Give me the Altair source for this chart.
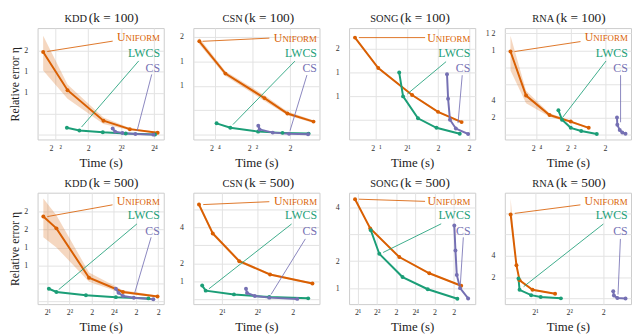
import json
import altair as alt
import pandas as pd

FONT = "Liberation Serif"
METHODS = ["Uniform", "LWCS", "CS"]
COLORS = ["#d95f02", "#1b9e77", "#7570b3"]
LABELS = ["NIFORM", "LWCS", "CS"]          # "Uniform" in small caps = "U" + "NIFORM"
LABEL_SIZES = [9, 12, 12]

# x = log2(time in s), y = relative error (axis units of the reference)
# ---------------- KDD, k = 100 ----------------
kdd100_unif_t = [-2.73, -1.25, 0.93, 2.53, 4.22]
kdd100_unif_err = [3.93, 2.12, 0.67, 0.27, 0.10]
kdd100_unif_lo = [3.06, 1.72, 0.52, 0.22, 0.07]
kdd100_unif_hi = [4.70, 2.39, 0.82, 0.33, 0.13]
kdd100_lwcs_t = [-1.29, -0.53, 0.89, 2.28, 4.06]
kdd100_lwcs_err = [0.34, 0.21, 0.12, 0.06, 0.02]
kdd100_cs_t = [1.49, 1.64, 2.08, 2.87, 3.96]
kdd100_cs_err = [0.30, 0.15, 0.09, 0.04, 0.01]
kdd100_xdom = [-3.07, 4.59]
kdd100_ydom = [-0.22, 5.07]
kdd100_xticks = [-2, 0, 2, 4]
kdd100_xlabels = ["2\u00a0\u00a0\u00a0²", "2", "2²", "2⁴"]
kdd100_yticks = [0, 1, 2, 3, 4]
kdd100_ylabels = ["", "", "1", "1", "2"]
kdd100_label_x = [4.36, 4.36, 4.36]
kdd100_label_y = [4.63, 3.88, 3.18]
kdd100_from_x = [1.49, 3.07, 3.86]
kdd100_from_y = [4.45, 3.51, 2.87]
kdd100_to_x = [-2.48, -0.40, 2.97]
kdd100_to_y = [3.96, 0.37, 0.19]

# ---------------- CSN, k = 100 ----------------
csn100_unif_t = [-4.83, -3.44, -1.36, -0.14, 1.25]
csn100_unif_err = [3.82, 2.50, 1.50, 0.87, 0.54]
csn100_unif_lo = [3.70, 2.40, 1.38, 0.80, 0.48]
csn100_unif_hi = [3.95, 2.60, 1.62, 0.95, 0.60]
csn100_lwcs_t = [-3.91, -3.18, -1.70, -0.40, 0.99]
csn100_lwcs_err = [0.47, 0.29, 0.13, 0.08, 0.05]
csn100_cs_t = [-1.69, -1.62, -0.92, -0.05, 0.96]
csn100_cs_err = [0.37, 0.22, 0.09, 0.04, 0.02]
csn100_xdom = [-5.15, 1.57]
csn100_ydom = [-0.19, 4.36]
csn100_xticks = [-4, -2, 0]
csn100_xlabels = ["2\u00a0\u00a0⁴", "2\u00a0\u00a0²", "2"]
csn100_yticks = [0, 1, 2, 3, 4]
csn100_ylabels = ["", "", "1", "1", "2"]
csn100_label_x = [1.43, 1.43, 1.43]
csn100_label_y = [3.97, 3.33, 2.73]
csn100_from_x = [-1.10, 0.26, 0.90]
csn100_from_y = [3.95, 3.01, 2.44]
csn100_to_x = [-4.66, -3.04, 0.00]
csn100_to_y = [3.82, 0.42, 0.17]

# ---------------- SONG, k = 100 ----------------
song100_unif_t = [-2.35, -0.85, 1.33, 3.00, 4.52]
song100_unif_err = [3.46, 2.18, 1.05, 0.34, -0.09]
song100_unif_lo = [3.42, 2.14, 1.01, 0.30, -0.13]
song100_unif_hi = [3.50, 2.22, 1.09, 0.38, -0.05]
song100_lwcs_t = [0.50, 0.75, 1.71, 2.90, 4.40]
song100_lwcs_err = [1.99, 0.99, 0.07, -0.33, -0.58]
song100_cs_t = [3.58, 3.65, 3.77, 4.15, 4.94]
song100_cs_err = [1.92, 0.89, 0.01, -0.36, -0.59]
song100_xdom = [-2.73, 5.40]
song100_ydom = [-0.82, 3.86]
song100_xticks = [-1, 1, 3, 5]
song100_xlabels = ["2\u00a0\u00a0¹", "2¹", "2", "2"]
song100_yticks = [0, 1, 2, 3]
song100_ylabels = ["", "1", "1", "2"]
song100_label_x = [5.08, 5.08, 5.08]
song100_label_y = [3.46, 2.80, 2.18]
song100_from_x = [2.17, 3.52, 4.56]
song100_from_y = [3.46, 2.45, 1.88]
song100_to_x = [-2.10, 1.02, 4.29]
song100_to_y = [3.46, 1.09, -0.13]

# ---------------- RNA, k = 100 ----------------
rna100_unif_t = [-5.52, -4.61, -3.24, -2.00, -0.95]
rna100_unif_err = [4.93, 2.32, 1.17, 0.78, 0.41]
rna100_unif_lo = [3.81, 1.86, 1.07, 0.70, 0.37]
rna100_unif_hi = [5.86, 2.60, 1.27, 0.85, 0.45]
rna100_lwcs_t = [-2.72, -2.51, -2.00, -1.39, -0.48]
rna100_lwcs_err = [1.45, 0.89, 0.41, 0.22, 0.04]
rna100_cs_t = [0.70, 0.72, 0.86, 1.01, 1.20]
rna100_cs_err = [1.02, 0.59, 0.28, 0.13, 0.06]
rna100_xdom = [-5.85, 1.52]
rna100_ydom = [-0.28, 6.32]
rna100_xticks = [-4, -2, 0]
rna100_xlabels = ["2\u00a0\u00a0⁴", "2\u00a0\u00a0²", "2"]
rna100_yticks = [0, 1, 2, 3, 4, 5, 6]
rna100_ylabels = ["", "2", "4", "", "", "1", "1\u00a02"]
rna100_label_x = [1.33, 1.33, 1.33]
rna100_label_y = [5.76, 4.83, 3.96]
rna100_from_x = [-1.43, 0.06, 0.91]
rna100_from_y = [5.52, 4.37, 3.53]
rna100_to_x = [-5.28, -2.48, 0.91]
rna100_to_y = [4.93, 1.02, 0.74]

# ---------------- KDD, k = 500 ----------------
kdd500_unif_t = [0.82, 1.41, 2.88, 4.41, 5.97]
kdd500_unif_err = [4.73, 4.07, 1.30, 0.50, 0.25]
kdd500_unif_lo = [3.57, 3.00, 1.07, 0.42, 0.20]
kdd500_unif_hi = [5.75, 4.80, 1.60, 0.60, 0.30]
kdd500_lwcs_t = [1.07, 1.41, 2.74, 4.09, 5.56]
kdd500_lwcs_err = [0.68, 0.50, 0.32, 0.21, 0.14]
kdd500_cs_t = [4.09, 4.21, 4.41, 4.90, 5.78]
kdd500_cs_err = [0.68, 0.45, 0.27, 0.18, 0.09]
kdd500_xdom = [0.56, 6.25]
kdd500_ydom = [-0.18, 6.07]
kdd500_xticks = [1, 2, 3, 4, 5, 6]
kdd500_xlabels = ["2¹", "2²", "2", "2⁴", "2", "2"]
kdd500_yticks = [0, 1, 2, 3, 4, 5]
kdd500_ylabels = ["", "", "1", "1", "2", "2"]
kdd500_label_x = [6.07, 6.07, 6.07]
kdd500_label_y = [5.59, 4.82, 3.93]
kdd500_from_x = [3.94, 5.04, 5.68]
kdd500_from_y = [5.39, 4.32, 3.57]
kdd500_to_x = [1.00, 1.51, 4.94]
kdd500_to_y = [4.73, 0.63, 0.45]

# ---------------- CSN, k = 500 ----------------
csn500_unif_t = [0.35, 0.74, 1.49, 2.36, 3.56]
csn500_unif_err = [5.27, 3.66, 2.12, 1.38, 0.88]
csn500_unif_lo = [5.15, 3.56, 2.04, 1.32, 0.83]
csn500_unif_hi = [5.40, 3.76, 2.20, 1.44, 0.93]
csn500_lwcs_t = [0.44, 0.54, 1.34, 2.34, 3.44]
csn500_lwcs_err = [0.76, 0.48, 0.27, 0.12, 0.05]
csn500_cs_t = [1.68, 1.71, 1.93, 2.34, 3.13]
csn500_cs_err = [0.58, 0.35, 0.18, 0.09, 0.02]
csn500_xdom = [0.19, 3.76]
csn500_ydom = [-0.27, 5.93]
csn500_xticks = [1, 2, 3]
csn500_xlabels = ["2¹", "2²", "2"]
csn500_yticks = [0, 1, 2, 3, 4, 5]
csn500_ylabels = ["", "1", "2", "", "4", ""]
csn500_label_x = [3.69, 3.69, 3.69]
csn500_label_y = [5.45, 4.69, 3.81]
csn500_from_x = [2.34, 2.97, 3.36]
csn500_from_y = [5.43, 4.19, 3.36]
csn500_to_x = [0.47, 0.63, 2.39]
csn500_to_y = [5.27, 0.58, 0.27]

# ---------------- SONG, k = 500 ----------------
song500_unif_t = [0.87, 1.66, 3.17, 4.73, 6.39]
song500_unif_err = [4.29, 3.21, 2.15, 1.55, 1.09]
song500_unif_lo = [4.26, 3.18, 2.12, 1.52, 1.06]
song500_unif_hi = [4.32, 3.24, 2.18, 1.58, 1.12]
song500_lwcs_t = [1.69, 2.13, 3.34, 4.65, 6.19]
song500_lwcs_err = [3.14, 2.27, 1.41, 0.96, 0.61]
song500_cs_t = [6.03, 6.09, 6.16, 6.33, 6.75]
song500_cs_err = [3.32, 2.39, 1.49, 1.00, 0.62]
song500_xdom = [0.56, 7.12]
song500_ydom = [0.41, 4.53]
song500_xticks = [1, 2, 3, 4, 5, 6]
song500_xlabels = ["2¹", "2²", "2", "2⁴", "2", "2"]
song500_yticks = [1, 2, 3, 4]
song500_ylabels = ["1", "2", "", "4"]
song500_label_x = [6.87, 6.87, 6.87]
song500_label_y = [4.21, 3.71, 3.12]
song500_from_x = [4.51, 5.35, 6.50]
song500_from_y = [4.21, 3.38, 2.88]
song500_to_x = [1.07, 2.33, 6.33]
song500_to_y = [4.29, 2.32, 0.98]

# ---------------- RNA, k = 500 ----------------
rna500_unif_t = [0.29, 0.46, 0.55, 0.93, 1.59]
rna500_unif_err = [3.94, 1.55, 0.85, 0.40, 0.22]
rna500_unif_lo = [3.80, 1.45, 0.78, 0.36, 0.19]
rna500_unif_hi = [4.69, 1.65, 0.92, 0.44, 0.25]
rna500_lwcs_t = [0.52, 0.55, 0.89, 1.17, 1.76]
rna500_lwcs_err = [0.93, 0.40, 0.15, 0.06, 0.00]
rna500_cs_t = [3.29, 3.31, 3.41, 3.65]
rna500_cs_err = [0.33, 0.13, 0.02, -0.01]
rna500_xdom = [0.12, 3.81]
rna500_ydom = [-0.27, 4.96]
rna500_xticks = [1, 2, 3]
rna500_xlabels = ["2¹", "2²", "2"]
rna500_yticks = [0, 1, 2, 3, 4]
rna500_ylabels = ["", "2", "4", "", ""]
rna500_label_x = [3.71, 3.71, 3.71]
rna500_label_y = [4.55, 3.91, 3.16]
rna500_from_x = [2.33, 3.00, 3.50]
rna500_from_y = [4.39, 3.49, 2.79]
rna500_to_x = [0.41, 0.67, 3.43]
rna500_to_y = [3.99, 0.55, 0.18]

PANELS = [("kdd100", "KDD", "100"), ("csn100", "CSN", "100"),
          ("song100", "SONG", "100"), ("rna100", "RNA", "100"),
          ("kdd500", "KDD", "500"), ("csn500", "CSN", "500"),
          ("song500", "SONG", "500"), ("rna500", "RNA", "500")]

W, H = 128, 113


def get(p, s):
    return globals()[f"{p}_{s}"]


def label_expr(ticks, labels):
    return (f"{json.dumps(labels, ensure_ascii=False)}"
            f"[indexof({json.dumps(ticks)}, datum.value)]")


def panel(p, name, k, first):
    xs = alt.Scale(domain=get(p, "xdom"), nice=False, zero=False)
    ys = alt.Scale(domain=get(p, "ydom"), nice=False, zero=False)
    xax = alt.Axis(values=get(p, "xticks"),
                   labelExpr=label_expr(get(p, "xticks"), get(p, "xlabels")),
                   title="Time (s)")
    yax = alt.Axis(values=get(p, "yticks"),
                   labelExpr=label_expr(get(p, "yticks"), get(p, "ylabels")),
                   title="Relative error η" if first else None)
    col = alt.Color("method:N", scale=alt.Scale(domain=METHODS, range=COLORS), legend=None)

    rows = []
    for m, key in zip(METHODS, ["unif", "lwcs", "cs"]):
        for i, (t, e) in enumerate(zip(get(p, key + "_t"), get(p, key + "_err"))):
            rows.append({"method": m, "i": i, "t": t, "err": e})
    df = pd.DataFrame(rows)
    band = pd.DataFrame({"t": get(p, "unif_t"), "lo": get(p, "unif_lo"), "hi": get(p, "unif_hi")})
    ann = pd.DataFrame({
        "method": METHODS, "label": LABELS, "fs": LABEL_SIZES,
        "lx": get(p, "label_x"), "ly": get(p, "label_y"),
        "fx": get(p, "from_x"), "fy": get(p, "from_y"),
        "tx": get(p, "to_x"), "ty": get(p, "to_y"),
    })

    X = lambda f: alt.X(f, scale=xs, axis=xax)
    Y = lambda f: alt.Y(f, scale=ys, axis=yax)

    area = alt.Chart(band).mark_area(color=COLORS[0], opacity=0.25).encode(
        x=X("t:Q"), y=Y("lo:Q"), y2="hi:Q")
    lines = alt.Chart(df).mark_line(strokeWidth=2).encode(
        x=X("t:Q"), y=Y("err:Q"), color=col, detail="method:N", order="i:Q")
    pts = alt.Chart(df).mark_circle(size=16, opacity=1).encode(
        x=X("t:Q"), y=Y("err:Q"), color=col)
    rules = alt.Chart(ann).mark_rule(strokeWidth=1, opacity=0.85).encode(
        x=X("fx:Q"), y=Y("fy:Q"), x2="tx:Q", y2="ty:Q", color=col)
    texts = alt.Chart(ann).mark_text(align="right", baseline="alphabetic", dy=4, font=FONT).encode(
        x=X("lx:Q"), y=Y("ly:Q"), text="label:N", size=alt.Size("fs:Q", scale=None), color=col)
    ucap = alt.Chart(ann[ann.method == "Uniform"]).mark_text(
        text="U", align="right", baseline="alphabetic", dy=4, dx=-35, fontSize=12, font=FONT
    ).encode(x=X("lx:Q"), y=Y("ly:Q"), color=col)
    tname = alt.Chart(pd.DataFrame({"s": [name]})).mark_text(
        align="right", baseline="alphabetic", fontSize=10.5, font=FONT, color="#222"
    ).encode(x=alt.value(W / 2 - 14), y=alt.value(-6), text="s:N")
    tk = alt.Chart(pd.DataFrame({"s": [f"(k = {k})"]})).mark_text(
        align="left", baseline="alphabetic", fontSize=13.5, font=FONT, color="#222"
    ).encode(x=alt.value(W / 2 - 12), y=alt.value(-6), text="s:N")
    return alt.layer(area, lines, pts, rules, texts, ucap, tname, tk).properties(width=W, height=H)


chart = alt.concat(
    *[panel(p, n, k, i % 4 == 0) for i, (p, n, k) in enumerate(PANELS)],
    columns=4, spacing={"row": 54, "column": 30}, bounds="flush", padding=0
).resolve_scale(
    x="independent", y="independent"
).configure(font=FONT).configure_view(
    stroke="#cccccc", strokeWidth=1
).configure_axis(
    labelFont=FONT, labelFontSize=8, labelColor="#333333", domain=False, ticks=False,
    gridColor="#e3e3e3", gridWidth=1, titleFont=FONT, titleFontWeight="normal",
    titleColor="#222222",
).configure_axisX(
    labelPadding=5, titleFontSize=13, titlePadding=4
).configure_axisY(
    labelPadding=10, titleFontSize=12, titlePadding=2
)

chart.save("out.html", embed_options={"renderer": "svg", "actions": False})
